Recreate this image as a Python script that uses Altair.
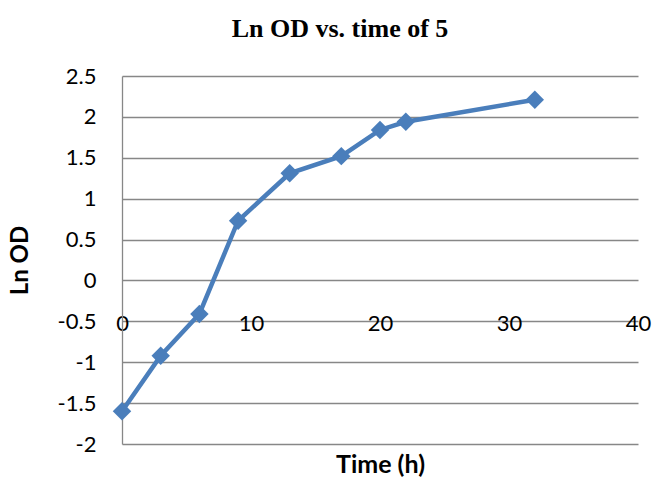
import altair as alt
import pandas as pd

# Data
time_h = [0, 3, 6, 9, 13, 17, 20, 22, 32]
ln_od = [-1.60, -0.92, -0.41, 0.73, 1.31, 1.52, 1.84, 1.94, 2.21]

x_ticks = [0, 10, 20, 30, 40]
y_ticks = [-2, -1.5, -1, -0.5, 0, 0.5, 1, 1.5, 2, 2.5]

df = pd.DataFrame({"time": time_h, "lnod": ln_od})

BLUE = "#4A7EBB"
GRID = "#878787"
LABEL_FONT = "Lato"

x_enc = alt.X(
    "time:Q",
    scale=alt.Scale(domain=[0, 40], nice=False, zero=False),
    axis=alt.Axis(
        values=x_ticks,
        title="Time (h)",
        titleFont=LABEL_FONT,
        titleFontSize=25,
        titleFontWeight="bold",
        titleColor="black",
        titleBaseline="alphabetic",
        titleY=149,
        labelFont=LABEL_FONT,
        labelFontSize=22,
        labelColor="black",
        labelBaseline="middle",
        labelPadding=0,
        labelFlush=False,
        labelExpr="'' + datum.value",
        ticks=False,
        domain=False,
        grid=False,
        offset=-121,
    ),
)

y_enc = alt.Y(
    "lnod:Q",
    scale=alt.Scale(domain=[-2, 2.5], nice=False, zero=False),
    axis=alt.Axis(
        values=y_ticks,
        title="Ln OD",
        titleFont=LABEL_FONT,
        titleFontSize=24,
        titleFontWeight="bold",
        titleColor="black",
        titleX=-102,
        titleBaseline="middle",
        labelFont=LABEL_FONT,
        labelFontSize=22,
        labelColor="black",
        labelPadding=26,
        labelExpr="'' + datum.value",
        ticks=False,
        domain=True,
        domainColor=GRID,
        domainWidth=1.3,
        grid=True,
        gridColor=GRID,
        gridWidth=1.3,
    ),
)

base = alt.Chart(df).encode(x=x_enc, y=y_enc)

line = base.mark_line(color=BLUE, strokeWidth=4.5)
pts = base.mark_point(shape="diamond", filled=True, size=340, color=BLUE, opacity=1)

chart = (
    alt.layer(line, pts)
    .properties(
        width=516,
        height=368,
        autosize=alt.AutoSizeParams(type="none"),
        padding={"left": 122, "top": 76, "right": 16, "bottom": 34},
        title=alt.Title(
            "Ln OD vs. time of 5",
            font="Liberation Serif",
            fontSize=26,
            fontWeight="bold",
            color="black",
            anchor="middle",
            dx=-40,
            baseline="alphabetic",
            offset=2,
        ),
        background="white",
    )
    .configure_view(stroke=None)
)

chart.save("out.html", embed_options={"renderer": "svg", "actions": False})
